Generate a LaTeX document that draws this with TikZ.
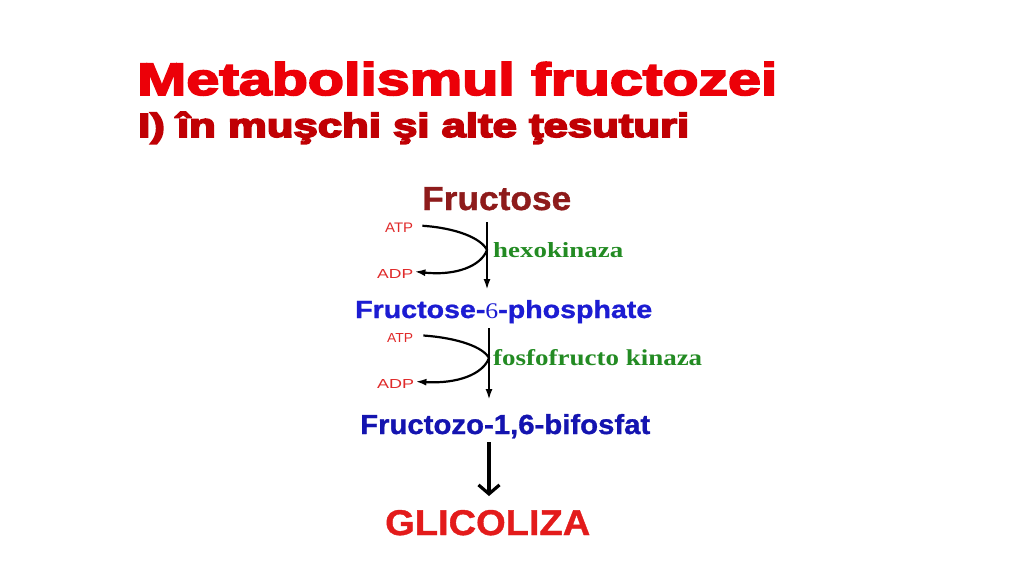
\documentclass[tikz,border=0pt]{standalone}
\usepackage{fontspec}
\setmainfont{Liberation Sans}
\newfontfamily\heavyfont[BoldFeatures={FakeBold=3.5}]{Liberation Sans}
\newfontfamily\heavierfont[BoldFeatures={FakeBold=4.5}]{Liberation Sans}
\newfontfamily\boldishfont[BoldFeatures={FakeBold=1}]{Liberation Sans}
\newfontfamily\seriffont{Liberation Serif}
\usetikzlibrary{arrows.meta}
\definecolor{titlered}{HTML}{EC0008}
\definecolor{subred}{HTML}{C00004}
\definecolor{frured}{HTML}{8E1B1B}
\definecolor{bluea}{HTML}{1C1CD2}
\definecolor{blueb}{HTML}{1414B0}
\definecolor{enzgreen}{HTML}{238B23}
\definecolor{atpred}{HTML}{E02A2A}
\definecolor{glired}{HTML}{E31B1B}
\newcommand\fitbox[3]{\resizebox{#1pt}{#2pt}{#3}}
\begin{document}
\begin{tikzpicture}[x=1pt,y=-1pt,
  txt/.style={inner sep=0pt, anchor=base west},
  thinarrow/.style={line width=2.2pt, -{Latex[length=11pt,width=7pt]}},
  curvearrow/.style={line width=2.2pt, -{Latex[length=11pt,width=7pt]}},
  thickarrow/.style={line width=3.2pt, -{Straight Barb[length=9pt,width=21pt,line width=3.2pt]}}]
\useasboundingbox[fill=white] (0,0) rectangle (1024,574);
% title
\node[txt, text=titlered] (t1) at (137,95) {\fitbox{640}{33}{\heavyfont\bfseries Metabolismul fructozei}};
\node[txt, text=subred] (t2) at (138,137) {\fitbox{551}{25}{\heavierfont\bfseries I) în muşchi şi alte ţesuturi}};
% metabolites
\node[txt, text=frured] (fru) at (422,210) {\fitbox{149}{23}{\boldishfont\bfseries Fructose}};
\node[txt, text=bluea] (f6p) at (355,318) {\fitbox{297}{18}{\boldishfont\bfseries Fructose-{\seriffont\mdseries\small 6}-phosphate}};
\node[txt, text=blueb] (f16) at (360,434) {\fitbox{290}{20}{\boldishfont\bfseries Fructozo-1,6-bifosfat}};
\node[txt, text=glired] (gli) at (385,535) {\fitbox{205}{25}{\boldishfont\bfseries GLICOLIZA}};
% enzymes
\node[txt, text=enzgreen] (hk) at (493,257) {\fitbox{130}{15}{\seriffont\bfseries hexokinaza}};
\node[txt, text=enzgreen] (pfk) at (493,365) {\fitbox{209}{16}{\seriffont\bfseries fosfofructo kinaza}};
% cofactors
\node[txt, text=atpred] (atp1) at (385,232) {\fitbox{28}{9.5}{ATP}};
\node[txt, text=atpred] (adp1) at (377,278) {\fitbox{36}{9}{ADP}};
\node[txt, text=atpred] (atp2) at (387,342) {\fitbox{26}{9}{ATP}};
\node[txt, text=atpred] (adp2) at (377,388) {\fitbox{37}{9}{ADP}};
% arrow ends
\coordinate (v1s) at (487,222);
\coordinate (v1e) at (487,290);
\coordinate (v2s) at (489,328);
\coordinate (v2e) at (489,400);
\coordinate (v3s) at (489,442);
\coordinate (v3e) at (489,496);
% vertical arrows
\draw[thinarrow] (v1s) -- (v1e);
\draw[thinarrow] (v2s) -- (v2e);
\draw[thickarrow] (v3s) -- (v3e);
% ATP -> ADP curves
\draw[curvearrow] ([xshift=9pt,yshift=1.5pt]atp1.east) .. controls (456,228) and (481,238) .. (487,250)
  .. controls (481,266) and (456,276) .. ([xshift=1pt,yshift=2pt]adp1.east);
\draw[curvearrow] ([xshift=10pt,yshift=2pt]atp2.east) .. controls (458,338) and (483,347) .. (489,358)
  .. controls (483,374) and (458,384) .. ([xshift=1pt,yshift=2pt]adp2.east);
\end{tikzpicture}
\end{document}
